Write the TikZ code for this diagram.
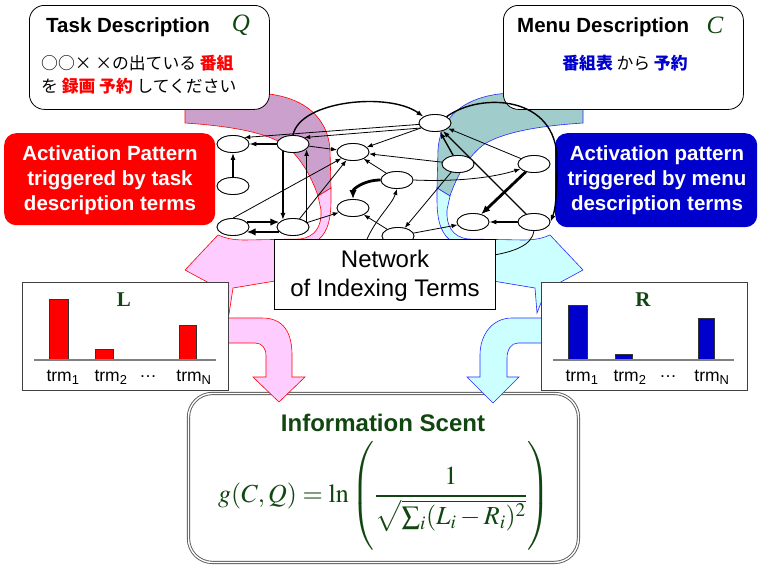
\documentclass[tikz,border=0pt]{standalone}
\usepackage{amsmath}
\usepackage{mathptmx}
\usepackage[no-math]{fontspec}
\setmainfont{Liberation Sans}
\newfontfamily\serifx{Liberation Serif}
\newfontfamily\jpfont{Noto Sans CJK JP}
\usetikzlibrary{shapes.geometric,arrows.meta}
\definecolor{pinkf}{RGB}{255,204,255}
\definecolor{purp}{RGB}{204,160,204}
\definecolor{cyanf}{RGB}{204,255,255}
\definecolor{tealf}{RGB}{160,204,204}
\definecolor{dgreen}{RGB}{17,70,17}
\definecolor{boxblue}{RGB}{0,0,204}
\definecolor{lineblue}{RGB}{40,40,255}
\begin{document}
\begin{tikzpicture}[x=1pt,y=-1pt,
  nd/.style={ellipse, draw, fill=white, line width=0.8pt, minimum width=32pt, minimum height=17pt, inner sep=0pt},
  e1/.style={-{Latex[length=6pt,width=4.5pt]}, line width=0.8pt},
  e2/.style={-{Latex[length=7pt,width=5pt]}, line width=1.4pt},
  e3/.style={-{Latex[length=9pt,width=7.5pt]}, line width=2.8pt},
  txt/.style={inner sep=0pt},
  bx/.style={draw, line width=0.8pt, fill=white},
  chartbox/.style={draw=black!75, line width=0.9pt, fill=white},
  pinkarrow/.style={fill=pinkf, draw=red, line width=0.6pt},
  cyanarrow/.style={fill=cyanf, draw=lineblue, line width=0.6pt},
  trm/.style={inner sep=0pt, font=\fontsize{17.5}{20}\selectfont}
]
\useasboundingbox (0,0) rectangle (759,565);

% ---- big curved arrows (behind everything) ----
% left: dark back part
\path[fill=purp, draw=red, line width=0.6pt] (185,93) -- (252,93) .. controls (300,93) and (328,115) .. (330,150) -- (331,188) -- (318,196) .. controls (312,178) and (300,155) .. (282,143) .. controls (262,132) and (230,126) .. (185,123) -- cycle;
% left: light front part with head
\path[pinkarrow] (331,188) -- (331,200) .. controls (331,225) and (325,236) .. (315,242) -- (300,252) -- (275,281) -- (233,288) -- (229,314) -- (222,290) -- (185,270) -- (218,235) .. controls (225,238) and (232,240) .. (245,240) -- (300,239) .. controls (316,237) and (322,225) .. (321,210) -- (318,196) -- cycle;
% right: dark back part (mirror)
\path[fill=tealf, draw=lineblue, line width=0.6pt] (583,93) -- (516,93) .. controls (468,93) and (440,115) .. (438,150) -- (437,188) -- (450,196) .. controls (456,178) and (468,155) .. (486,143) .. controls (506,132) and (538,126) .. (583,123) -- cycle;
% right: light front part with head
\path[cyanarrow] (437,188) -- (437,200) .. controls (437,225) and (443,236) .. (453,242) -- (468,252) -- (493,281) -- (535,288) -- (537,313) -- (546,290) -- (583,270) -- (550,235) .. controls (543,238) and (536,240) .. (523,240) -- (468,239) .. controls (452,237) and (446,225) .. (447,210) -- (450,196) -- cycle;

% ---- description boxes ----
\node[bx, rounded corners=15pt, minimum width=240pt, minimum height=104pt, anchor=north west] (task) at (29,5) {};
\node[txt, anchor=west, font=\fontsize{20.5}{24}\selectfont\bfseries] (tasklbl) at (46,27) {Task Description};
\node[txt, font=\serifx\itshape\fontsize{25}{28}\selectfont, text=dgreen] (qsym) at (241,25) {Q};
\node[txt, anchor=west, font=\jpfont\fontsize{16.8}{20}\selectfont] (jpa) at (41,63) {○○× ×の出ている {\bfseries\color{red}番組}};
\node[txt, anchor=west, font=\jpfont\fontsize{16.8}{20}\selectfont] (jpb) at (41,86) {を {\bfseries\color{red}録画 予約} してください};

\node[bx, rounded corners=15pt, minimum width=240pt, minimum height=104pt, anchor=north west] (menu) at (503,5) {};
\node[txt, anchor=west, font=\fontsize{20.5}{24}\selectfont\bfseries] (menulbl) at (517,27) {Menu Description};
\node[txt, font=\serifx\itshape\fontsize{25}{28}\selectfont, text=dgreen] (csym) at (715,25) {C};
\node[txt, font=\jpfont\fontsize{16.8}{20}\selectfont] (jpc) at (625,63) {{\bfseries\color{boxblue}番組表} から {\bfseries\color{boxblue}予約}};

% ---- activation boxes ----
\node[fill=red, rounded corners=12pt, minimum width=211pt, minimum height=92pt, anchor=north west] (redbox) at (4,133) {};
\node[txt, align=center, text=white, font=\fontsize{20.5}{25}\selectfont\bfseries] (redtxt) at (110,180) {Activation Pattern\\triggered by task\\description terms};
\node[fill=boxblue, rounded corners=12pt, minimum width=202pt, minimum height=94pt, anchor=north west] (bluebox) at (555,133) {};
\node[txt, align=center, text=white, font=\fontsize{20.5}{25}\selectfont\bfseries] (bluetxt) at (657,180) {Activation pattern\\triggered by menu\\description terms};

% ---- network nodes ----
\node[nd] (n1) at (233,144) {};
\node[nd] (n2) at (293,144) {};
\node[nd] (n3) at (233,186) {};
\node[nd] (n4) at (353,152) {};
\node[nd] (n5) at (233,227) {};
\node[nd] (n6) at (293,227) {};
\node[nd] (n7) at (353,208) {};
\node[nd] (n8) at (435,123) {};
\node[nd] (n9) at (458,164) {};
\node[nd] (n10) at (534,164) {};
\node[nd] (n11) at (397,180) {};
\node[nd] (n12) at (473,222) {};
\node[nd] (n13) at (534,222) {};
\node[nd] (n14) at (398,236) {};
\coordinate (c27) at (364,247);
\coordinate (c28) at (488,256);

% ---- network edges ----
\draw[e2] (n2) -- (n1);
\draw[e2] (n3) -- (n1);
\draw[e1] (n8.185) -- (n1.30);
\draw[e1] (n8.200) -- (n2.30);
\draw[e2] (n2.north) .. controls (300,100) and (390,92) .. (n8.north west);
\draw[e1] (n2) -- (n4);
\draw[e2] (n2.215) -- (n6.145);
\draw[e2] (n6.20) -- (n2.340);
\draw[e3] (n5.20) -- (n6.160);
\draw[e3] (n6.200) -- (n5.340);
\draw[e1] (n5.north) -- (n4);
\draw[e1] (n6) -- (n4);
\draw[e1] (n6) -- (n7);
\draw[e1] (n8) -- (n4);
\draw[e1] (n9) -- (n4);
\draw[e1] (n11) -- (n4);
\draw[e3] (n11.west) .. controls (364,180) and (353,189) .. (n7.north);
\draw[e1] (n11.east) .. controls (460,182) and (495,177) .. (n10.200);
\draw[e2] (n9) -- (n8);
\draw[e2] (n13) -- (n8);
\draw[e1] (n10) -- (n8);
\draw[e2] (n8.north east) .. controls (480,92) and (557,95) .. (557,160) .. controls (557,190) and (556,208) .. (n13.east);
\draw[e3] (n10) -- (n12);
\draw[e2] (n13) -- (n12);
\draw[e1] (n9) -- (n14);
\draw[e1] (n14) -- (n12);
\draw[e1] (n14) -- (n7);
\draw[e1] (c27) .. controls (372,222) and (392,205) .. (n11.south);
\draw[line width=0.8pt] (n13.south) .. controls (532,245) and (515,252) .. (c28);

% redraw nodes on top of edges
\foreach \p in {(233,144),(293,144),(233,186),(353,152),(233,227),(293,227),(353,208),(435,123),(458,164),(534,164),(397,180),(473,222),(534,222),(398,236)}
  \node[nd] at \p {};

% ---- network label ----
\node[bx, minimum width=221pt, minimum height=70pt, anchor=north west] (netbox) at (274,239) {};
\node[txt, font=\fontsize{24}{28}\selectfont] (net1) at (385,259) {Network};
\node[txt, font=\fontsize{24}{28}\selectfont] (net2) at (385,290) {of Indexing Terms};

% ---- information scent ----
\node[draw=black!65, double=white, double distance=1.4pt, line width=0.9pt, fill=white, rounded corners=24pt, minimum width=390pt, minimum height=169pt, anchor=north west] (info) at (188,393) {};
\node[txt, text=dgreen, font=\fontsize{24}{28}\selectfont\bfseries] (infolbl) at (383,423) {Information Scent};
\node[txt, text=dgreen, font=\fontsize{26}{30}\selectfont] (formula) at (384,496) {$g(C,Q)=\ln\left(\rule[-46pt]{0pt}{98pt}\dfrac{1}{\sqrt{\sum_i (L_i-R_i)^2}}\right)$};

% ---- lower arrows ----
\path[pinkarrow] (224,318) -- (262,318) .. controls (284,318) and (292,333) .. (292,355) -- (292,377) -- (305,377) -- (279,402) -- (253,377) -- (266,377) -- (266,356) .. controls (266,348) and (262,343) .. (255,343) -- (224,343) -- cycle;
\path[cyanarrow] (545,318) -- (512,318) .. controls (492,318) and (480,335) .. (480,355) -- (480,377) -- (467,377) -- (493,403) -- (519,377) -- (507,377) -- (507,358) .. controls (507,350) and (511,343) .. (518,343) -- (545,343) -- cycle;

% ---- L chart ----
\node[chartbox, minimum width=206pt, minimum height=108pt, anchor=north west] (lbox) at (22,282) {};
\node[txt, text=dgreen, font=\serifx\bfseries\fontsize{21}{24}\selectfont] (lsym) at (124,300) {L};
\path[fill=red, draw=black!80, line width=0.5pt] (49,299) rectangle (68,360);
\path[fill=red, draw=black!80, line width=0.5pt] (95,349) rectangle (113,360);
\path[fill=red, draw=black!80, line width=0.5pt] (179,325) rectangle (196,360);
\draw[black!50, line width=1.2pt] (34,360) -- (216,360);
\node[trm] (l1) at (63,377) {trm\textsubscript{1}};
\node[trm] (l2) at (111,377) {trm\textsubscript{2}};
\node[trm] (l3) at (148,377) {…};
\node[trm] (l4) at (194,377) {trm\textsubscript{N}};

% ---- R chart ----
\node[chartbox, minimum width=206pt, minimum height=108pt, anchor=north west] (rbox) at (541,282) {};
\node[txt, text=dgreen, font=\serifx\bfseries\fontsize{21}{24}\selectfont] (rsym) at (643,300) {R};
\path[fill=boxblue, draw=black!80, line width=0.5pt] (568,305) rectangle (587,360);
\path[fill=boxblue, draw=black!80, line width=0.5pt] (615,354) rectangle (632,360);
\path[fill=boxblue, draw=black!80, line width=0.5pt] (698,318) rectangle (714,360);
\draw[black!50, line width=1.2pt] (553,360) -- (734,360);
\node[trm] (r1) at (582,377) {trm\textsubscript{1}};
\node[trm] (r2) at (630,377) {trm\textsubscript{2}};
\node[trm] (r3) at (668,377) {…};
\node[trm] (r4) at (712,377) {trm\textsubscript{N}};
\end{tikzpicture}
\end{document}
